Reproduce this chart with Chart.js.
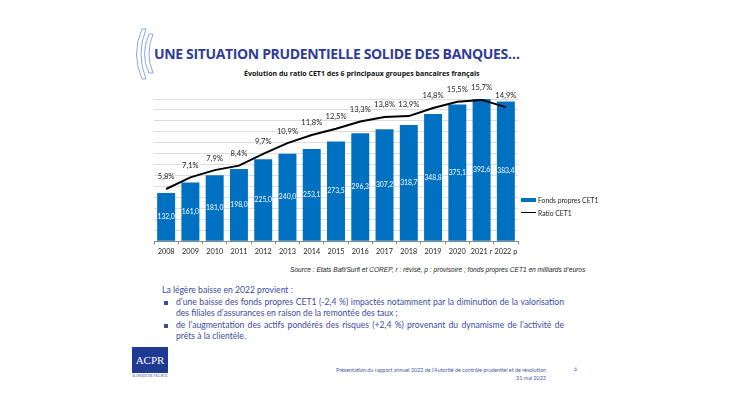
<!DOCTYPE html>
<html>
<head>
<meta charset="utf-8">
<script src="https://cdn.jsdelivr.net/npm/chart.js@4"></script>
<style>
body { margin: 0; background: #fff; }
#slide { position: relative; width: 730px; height: 410px; overflow: hidden; font-family: "Open Sans", sans-serif; }
#title { position: absolute; left: 154px; top: 44px; font-size: 14px; font-weight: bold; color: #2f3c98; white-space: nowrap; letter-spacing: -0.35px; }
#ctitle { position: absolute; left: 244px; top: 69px; font-size: 7px; font-weight: bold; color: #111; white-space: nowrap; }
#wrap { position: absolute; left: 140px; top: 80px; width: 382px; height: 179px; }
#legend { position: absolute; left: 521px; top: 193px; font-size: 6.8px; color: #222; font-family: "Lato", sans-serif; }
#legend div { display: flex; align-items: center; height: 13px; }
#legend span.sw { display: inline-block; width: 15px; margin-right: 2px; }
#source { position: absolute; left: 290px; top: 266px; font-size: 6.6px; font-style: italic; color: #222; white-space: nowrap; font-family: "Liberation Sans", sans-serif; }
#text { position: absolute; left: 162px; top: 285px; width: 402px; font-size: 8.6px; line-height: 11.6px; color: #3d4b9e; font-family: "Lato", sans-serif; }
#text ul { margin: 0; padding: 0; list-style: none; }
#text li { position: relative; padding-left: 14px; text-align: justify; }
#text li:before { content: ""; position: absolute; left: 2px; top: 4px; width: 4px; height: 4px; background: #3d4b9e; }
#logo { position: absolute; left: 132px; top: 347px; width: 36px; height: 26px; background: #1f3a93; color: #fff; font-family: "Liberation Serif", serif; font-size: 11px; text-align: center; line-height: 26px; }
#logo2 { position: absolute; left: 132px; top: 374px; width: 36px; font-size: 3.5px; color: #1f3a93; text-align: center; font-family: "Liberation Serif", serif; }
#foot { position: absolute; left: 300px; top: 366px; width: 246px; text-align: right; font-size: 5.4px; line-height: 8px; color: #4a5aa8; white-space: nowrap; font-family: "Lato", sans-serif; }
#page { position: absolute; left: 574px; top: 366px; font-size: 5.4px; color: #4a5aa8; font-family: "Lato", sans-serif; }
</style>
</head>
<body>
<div id="slide">
  <svg style="position:absolute;left:128px;top:27px" width="30" height="56">
    <path d="M14 2 L18 2 Q8 27 18 52 L14 52 Q3 27 14 2 Z" fill="none" stroke="#6f8fe6" stroke-width="0.8"/>
    <path d="M21 7 L25 7 Q17 27 25 46 L21 46 Q12 27 21 7 Z" fill="none" stroke="#6f8fe6" stroke-width="0.8"/>
  </svg>
  <div id="title">UNE SITUATION PRUDENTIELLE SOLIDE DES BANQUES…</div>
  <div id="ctitle">Évolution du ratio CET1 des 6 principaux groupes bancaires français</div>
  <div id="wrap"><canvas id="chart"></canvas></div>
  <div id="legend">
    <div><span class="sw" style="height:4px;background:#0070c0"></span>Fonds propres CET1</div>
    <div><span class="sw" style="height:1.5px;background:#000"></span>Ratio CET1</div>
  </div>
  <div id="source">Source : Etats Bafi/Surfi et COREP, r : révisé, p : provisoire ; fonds propres CET1 en milliards d’euros</div>
  <div id="text">
    La légère baisse en 2022 provient :
    <ul>
      <li>d’une baisse des fonds propres CET1 (-2,4 %) impactés notamment par la diminution de la valorisation des filiales d’assurances en raison de la remontée des taux ;</li>
      <li>de l’augmentation des actifs pondérés des risques (+2,4 %) provenant du dynamisme de l’activité de prêts à la clientèle.</li>
    </ul>
  </div>
  <div id="logo">ACPR</div>
  <div id="logo2">BANQUE DE FRANCE</div>
  <div id="foot">Présentation du rapport annuel 2022 de l’Autorité de contrôle prudentiel et de résolution<br>31 mai 2023</div>
  <div id="page">6</div>
</div>
<script>
var years = ['2008', '2009', '2010', '2011', '2012', '2013', '2014', '2015', '2016', '2017', '2018', '2019', '2020', '2021 r', '2022 p'];
var fondsPropres = [132.0, 161.0, 181.0, 198.0, 225.0, 240.0, 253.1, 273.5, 296.3, 307.2, 318.7, 348.8, 375.1, 392.6, 383.4];
var ratioCET1 = [5.8, 7.1, 7.9, 8.4, 9.7, 10.9, 11.8, 12.5, 13.3, 13.8, 13.9, 14.8, 15.5, 15.7, 14.9];

function fr(v, suffix) {
    return v.toFixed(1).replace('.', ',') + (suffix || '');
}

var valueLabels = {
    id: 'valueLabels',
    afterDatasetsDraw: function (chart) {
        var ctx = chart.ctx;
        ctx.save();
        ctx.textAlign = 'center';
        ctx.textBaseline = 'middle';
        ctx.font = '6.8px Lato, sans-serif';
        chart.getDatasetMeta(0).data.forEach(function (bar, i) {
            ctx.fillStyle = '#fff';
            ctx.fillText(fr(fondsPropres[i]), bar.x, (bar.y + bar.base) / 2);
        });
        ctx.font = '7.6px Lato, sans-serif';
        chart.getDatasetMeta(1).data.forEach(function (pt, i) {
            ctx.fillStyle = '#222';
            ctx.fillText(fr(ratioCET1[i], '%'), pt.x, pt.y - 12);
        });
        ctx.restore();
    }
};

window.addEventListener("load", function () {
    var ctx = document.getElementById('chart').getContext('2d');
    new Chart(ctx, {
        data: {
            labels: years,
            datasets: [
                {
                    type: 'bar',
                    label: 'Fonds propres CET1',
                    data: fondsPropres,
                    backgroundColor: '#0070c0',
                    yAxisID: 'y',
                    barPercentage: 0.74,
                    categoryPercentage: 1,
                    order: 2
                },
                {
                    type: 'line',
                    label: 'Ratio CET1',
                    data: ratioCET1,
                    borderColor: '#000',
                    borderWidth: 2,
                    pointRadius: 0,
                    tension: 0,
                    yAxisID: 'y1',
                    clip: false,
                    order: 1
                }
            ]
        },
        options: {
            responsive: true,
            maintainAspectRatio: false,
            animation: false,
            layout: { padding: { left: 14, right: 4, top: 19, bottom: 0 } },
            plugins: {
                legend: { display: false },
                tooltip: { enabled: false }
            },
            scales: {
                x: {
                    grid: { display: true, drawOnChartArea: false, offset: true, tickLength: 3, color: '#888' },
                    border: { color: '#888' },
                    ticks: { color: '#222', font: { size: 7.3, family: 'Lato' }, padding: 3, maxRotation: 0, autoSkip: false }
                },
                y: {
                    display: true,
                    min: 0, max: 390,
                    ticks: { stepSize: 30, display: false },
                    grid: { color: '#dcdcdc', drawTicks: false },
                    border: { display: false }
                },
                y1: {
                    display: false,
                    min: 0, max: 15.8
                }
            }
        },
        plugins: [valueLabels]
    });
});
</script>
</body>
</html>
